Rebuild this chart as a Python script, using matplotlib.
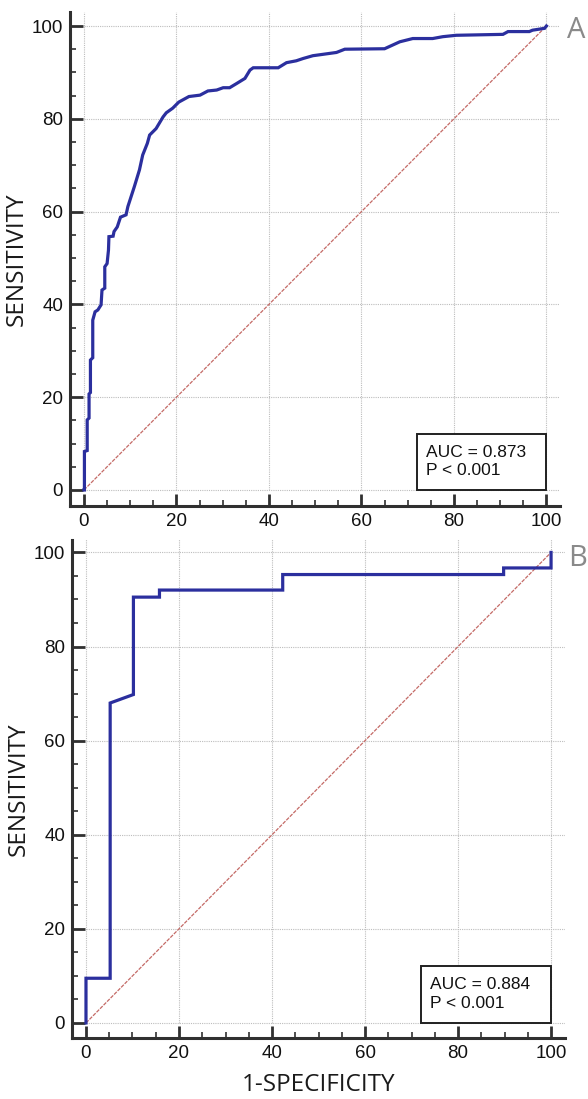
import matplotlib
matplotlib.use("Agg")
import matplotlib.pyplot as plt
from matplotlib.patches import Rectangle

# ROC curve A (1-specificity %, sensitivity %)
fpr_a = [0, 0.1, 0.1, 0.7, 0.7, 1.1, 1.1, 1.4, 1.4, 1.9, 1.9, 2.4, 3.0, 3.7, 3.9,
         4.5, 4.5, 5.0, 5.3, 5.4, 6.3, 6.5, 7.2, 7.9, 9.1, 9.5, 10.9, 12.0, 12.7,
         13.7, 14.2, 15.6, 17.1, 17.8, 19.2, 20.5, 22.7, 25.1, 26.8, 28.7, 30.1,
         31.5, 33.0, 34.8, 35.9, 36.6, 42.0, 43.8, 45.9, 47.4, 49.5, 51.7, 54.6,
         56.4, 65.0, 68.3, 71.1, 75.4, 77.6, 80.5, 90.6, 91.7, 96.3, 97.0, 99.6, 100]
tpr_a = [0, 0, 8.3, 8.5, 15.1, 15.5, 20.7, 21.0, 28.0, 28.5, 36.6, 38.4, 38.8, 39.9,
         43.1, 43.5, 48.1, 48.8, 51.7, 54.6, 54.7, 55.7, 56.7, 58.8, 59.3, 61.1,
         65.4, 69.0, 72.2, 74.7, 76.5, 77.9, 80.4, 81.3, 82.3, 83.6, 84.8, 85.1,
         86.0, 86.2, 86.7, 86.7, 87.6, 88.7, 90.5, 91.0, 91.0, 92.1, 92.5, 93.0,
         93.6, 93.9, 94.3, 95.0, 95.1, 96.6, 97.3, 97.3, 97.7, 98.0, 98.2, 98.8,
         98.8, 99.1, 99.5, 100]

# ROC curve B
fpr_b = [0, 0, 5.2, 5.2, 10.2, 10.2, 15.8, 15.8, 42.3, 42.3, 89.8, 89.8, 100, 100]
tpr_b = [0, 9.5, 9.5, 68.0, 69.8, 90.5, 90.5, 92.0, 92.0, 95.3, 95.3, 96.7, 96.7, 100]

auc_texts = ["AUC = 0.873\nP < 0.001", "AUC = 0.884\nP < 0.001"]
panel_names = ["A", "B"]
ticks = [0, 20, 40, 60, 80, 100]
minor_ticks = [v for v in range(0, 101, 5) if v % 20]

fig = plt.figure(figsize=(5.88, 10.99), dpi=100)
ax_a = fig.add_axes([0.1192, 0.5398, 0.8337, 0.4492])
ax_b = fig.add_axes([0.1225, 0.0555, 0.8384, 0.4534])

curve_col = "#2b2f9e"
spine_col = "#303030"

setup = [
    (ax_a, fpr_a, tpr_a, (-3.4, 103.0)),
    (ax_b, fpr_b, tpr_b, (-3.2, 102.7)),
]

for i, (ax, fx, ty, ylim) in enumerate(setup):
    ax.set_xlim(-3, 103)
    ax.set_ylim(*ylim)

    # grid only inside the data range
    ax.hlines(ticks, 0, 103, colors="#bdbdbd", linestyles=(0, (1, 1)), lw=0.8, zorder=1)
    ax.vlines(ticks, 0, 103, colors="#bdbdbd", linestyles=(0, (1, 1)), lw=0.8, zorder=1)

    ax.plot([0, 100], [0, 100], color="#c46a66", lw=0.9, ls=(0, (3, 1)), zorder=2)
    ax.plot(fx, ty, color=curve_col, lw=2.3, zorder=3, solid_joinstyle="miter")

    # box with AUC
    ax.add_patch(Rectangle((72.0, 0), 28.0, 12.0, facecolor="white",
                           edgecolor="#202020", lw=1.4, zorder=4))
    ax.text(74.0, 6.1, auc_texts[i], fontsize=12.5, family="Liberation Sans",
            va="center", ha="left", linespacing=1.3, zorder=5, color="#111111")

    for s in ["top", "right"]:
        ax.spines[s].set_visible(False)
    for s in ["left", "bottom"]:
        ax.spines[s].set_linewidth(2.2)
        ax.spines[s].set_color(spine_col)

    ax.set_xticks(ticks)
    ax.set_yticks(ticks)
    ax.set_xticks(minor_ticks, minor=True)
    ax.set_yticks(minor_ticks, minor=True)
    ax.tick_params(which="major", direction="in", length=9, width=2.0, color=spine_col,
                   labelsize=13.5, pad=5)
    ax.tick_params(which="minor", direction="in", length=4, width=1.2, color=spine_col)
    for lab in ax.get_xticklabels() + ax.get_yticklabels():
        lab.set_family("Liberation Sans")
        lab.set_color("#111111")

    ax.set_ylabel("SENSITIVITY", family="Open Sans", fontsize=17.5, labelpad=2,
                  color="#1a1a1a")
    ax.patch.set_alpha(0)

ax_b.set_xlabel("1-SPECIFICITY", family="Open Sans", fontsize=17.5, labelpad=8,
                color="#1a1a1a")

fig.text(567 / 588, 1 - 30 / 1099, panel_names[0], family="Open Sans", fontsize=21,
         color="#8a8a8a", ha="left", va="center")
fig.text(568 / 588, 1 - 559 / 1099, panel_names[1], family="Open Sans", fontsize=21,
         color="#8a8a8a", ha="left", va="center")

fig.savefig("out.png", dpi=100, facecolor="white")
